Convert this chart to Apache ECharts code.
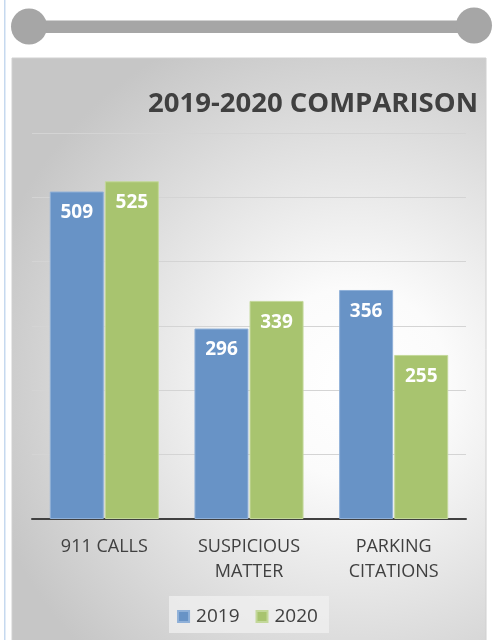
<!DOCTYPE html>
<html>
<head>
<meta charset="utf-8">
<script src="https://cdn.jsdelivr.net/npm/echarts@6/dist/echarts.min.js"></script>
<style>
html,body{margin:0;padding:0;background:#fff;}
#main{width:495px;height:640px;}
</style>
</head>
<body>
<div id="main"></div>
<script>
const categories = ['911 CALLS', 'SUSPICIOUS\nMATTER', 'PARKING\nCITATIONS'];
const values2019 = [509, 296, 356];
const values2020 = [525, 339, 255];
const seriesNames = ['2019', '2020'];
const chartTitle = '2019-2020 COMPARISON';

const chart = echarts.init(document.getElementById('main'), null, {renderer: 'canvas'});
const FONT = '"Open Sans", "Liberation Sans", sans-serif';
const TXT = '#404040';

chart.setOption({
  animation: false,
  backgroundColor: '#ffffff',
  graphic: [
    {type: 'rect', z: -10, silent: true, shape: {x: 4, y: 0, width: 1.5, height: 640}, style: {fill: '#c6d9ef'}},
    {type: 'rect', z: -9, silent: true, shape: {x: 12, y: 58, width: 474, height: 590},
      style: {fill: {type: 'radial', x: 0.72, y: 0.55, r: 0.8,
        colorStops: [{offset: 0, color: '#ffffff'}, {offset: 0.25, color: '#fbfbfb'}, {offset: 1, color: '#c6c6c6'}]},
        stroke: '#d0d0d0', lineWidth: 1}},
    {type: 'rect', z: -8, silent: true, shape: {x: 29, y: 20.5, width: 445, height: 12.5}, style: {fill: '#a6a6a6'}},
    {type: 'circle', z: -8, silent: true, shape: {cx: 29, cy: 26.5, r: 18}, style: {fill: '#a6a6a6'}},
    {type: 'circle', z: -8, silent: true, shape: {cx: 474, cy: 25.5, r: 18}, style: {fill: '#a6a6a6'}},
    {type: 'rect', z: -7, silent: true, shape: {x: 169, y: 596, width: 160, height: 37}, style: {fill: 'rgba(240,240,240,0.75)'}}
  ],
  title: {
    text: chartTitle,
    right: 17,
    top: 90,
    padding: 0,
    textStyle: {fontFamily: FONT, fontWeight: 'bold', fontSize: 27.5, color: TXT}
  },
  legend: {
    data: seriesNames,
    top: 602,
    left: 'center',
    itemWidth: 11,
    itemHeight: 11,
    itemGap: 16,
    icon: 'rect',
    textStyle: {fontFamily: FONT, fontSize: 19, color: TXT, padding: [0,0,0,2]}
  },
  grid: {left: 32, right: 29, top: 133, bottom: 121, containLabel: false},
  xAxis: {
    type: 'category',
    data: categories,
    axisLine: {lineStyle: {color: '#404040', width: 2}},
    axisTick: {show: false},
    axisLabel: {fontFamily: FONT, fontSize: 18, color: TXT, margin: 15, lineHeight: 25}
  },
  yAxis: {
    type: 'value',
    min: 0,
    max: 600,
    interval: 100,
    axisLabel: {show: false},
    axisLine: {show: false},
    axisTick: {show: false},
    splitLine: {lineStyle: {color: '#d4d4d4', width: 1}}
  },
  series: [
    {
      name: seriesNames[0], type: 'bar', data: values2019,
      barWidth: 54, barGap: '2%',
      itemStyle: {color: '#6893c6', borderColor: '#8fb0d8', borderWidth: 1},
      label: {show: true, position: 'insideTop', distance: 12, color: '#ffffff', fontFamily: FONT, fontWeight: 'bold', fontSize: 19}
    },
    {
      name: seriesNames[1], type: 'bar', data: values2020,
      barWidth: 54, barGap: '2%',
      itemStyle: {color: '#a8c46f', borderColor: '#c3d89a', borderWidth: 1},
      label: {show: true, position: 'insideTop', distance: 12, color: '#ffffff', fontFamily: FONT, fontWeight: 'bold', fontSize: 19}
    }
  ]
});
</script>
</body>
</html>
